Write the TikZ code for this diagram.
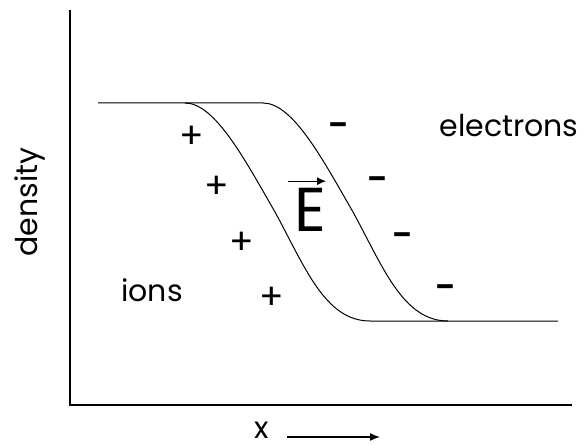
\documentclass[tikz,border=0pt]{standalone}
\usepackage{fontspec}
\setmainfont{Poppins}
\usetikzlibrary{arrows.meta}

\begin{document}
\begin{tikzpicture}[x=1pt,y=-1pt,>={Latex[length=10pt,width=8pt]},
  lbl/.style={font=\fontsize{30}{30}\selectfont,inner sep=0pt},
  poschg/.style={font=\fontsize{36}{36}\selectfont,inner sep=0pt},
  negchg/.style={font=\fontsize{28}{28}\selectfont\bfseries,inner sep=0pt}]
\useasboundingbox (0,0) rectangle (585,446);
% axes
\coordinate (top) at (70,10);
\coordinate (orig) at (70,405);
\coordinate (right) at (572,405);
\draw[line width=1.5pt] (top) -- (orig) -- (right);
% densities
\coordinate (lo) at (98,103);
\coordinate (hi) at (558,321);
\draw[line width=1pt] (lo) -- (185,103) .. controls (215,103) and (245,160) .. (275,212)
  .. controls (305,267) and (325,321) .. (370,321) -- (hi);
\draw[line width=1pt] (185,103) -- (263,103) .. controls (293,103) and (323,160) .. (353,212)
  .. controls (383,267) and (403,321) .. (448,321);
% charges
\foreach \i/\p in {1/{192,137},2/{217,187},3/{242,243},4/{272,298}}
  \node[poschg] (plus\i) at (\p) {+};
\foreach \i/\p in {1/{338,129},2/{377,183},3/{402,239},4/{445,291}}
  \node[negchg] (minus\i) at (\p) {–};
% field
\node[font=\fontsize{62}{62}\selectfont,inner sep=0pt] (vecE) at (310,210) {E};
\draw[->,line width=1.2pt,>={Latex[length=9pt,width=8pt]}]
  ([xshift=-6pt,yshift=7pt]vecE.north west) -- ([yshift=7pt]vecE.north east);
% labels
\node[lbl] (ions) at (152,290) {ions};
\node[lbl] (electrons) at (509,126) {electrons};
\node[lbl,rotate=90] (density) at (30,202) {density};
\node[lbl] (xlbl) at (262,430) {x};
\coordinate (xend) at (380,437);
\draw[->,line width=1.4pt] (287,437) -- (xend);
\end{tikzpicture}
\end{document}
